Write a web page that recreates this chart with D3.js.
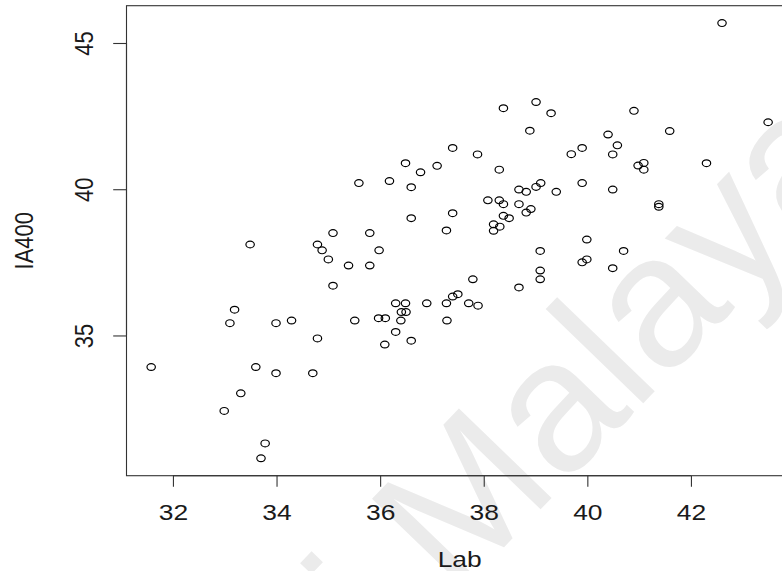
<!DOCTYPE html>
<html>
<head>
<meta charset="utf-8">
<script src="https://cdn.jsdelivr.net/npm/d3@7"></script>
<style>
  html, body { margin: 0; padding: 0; background: #fff; }
  svg { display: block; }
</style>
</head>
<body>
<svg id="chart" width="782" height="571"></svg>
<script>
// Lab vs IA400 measurements, one entry per sample
const lab = [
  31.58, 32.99, 33.10, 33.19, 33.31, 33.49, 33.60, 33.70, 33.78, 33.99,
  33.99, 34.29, 34.70, 34.79, 34.79, 34.88, 35.00, 35.09, 35.09, 35.39,
  35.51, 35.59, 35.80, 35.80, 35.98, 35.97, 36.10, 36.09, 36.18, 36.30,
  36.30, 36.41, 36.50, 36.40, 36.49, 36.49, 36.60, 36.60, 36.60, 36.78,
  36.90, 37.10, 37.28, 37.28, 37.29, 37.40, 37.40, 37.40, 37.50, 37.71,
  37.79, 37.88, 37.89, 38.08, 38.19, 38.19, 38.31, 38.30, 38.30, 38.38,
  38.38, 38.49, 38.38, 38.68, 38.68, 38.68, 38.82, 38.82, 38.91, 38.89,
  39.01, 39.01, 39.10, 39.09, 39.09, 39.09, 39.30, 39.40, 39.69, 39.90,
  39.90, 39.90, 39.99, 39.99, 40.40, 40.49, 40.49, 40.49, 40.58, 40.70,
  40.90, 40.98, 41.09, 41.09, 41.38, 41.38, 41.59, 42.30, 42.60, 43.49
];
const ia400 = [
  33.92, 32.42, 35.42, 35.88, 33.02, 38.11, 33.92, 30.80, 31.31, 35.42,
  33.71, 35.51, 33.71, 38.11, 34.90, 37.91, 37.60, 38.50, 36.70, 37.39,
  35.51, 40.21, 38.50, 37.39, 37.91, 35.59, 35.59, 34.69, 40.28, 36.10,
  35.12, 35.80, 35.80, 35.51, 36.10, 40.89, 40.07, 39.01, 34.82, 40.58,
  36.10, 40.80, 38.59, 36.10, 35.51, 41.41, 39.18, 36.33, 36.41, 36.10,
  36.92, 41.19, 36.02, 39.62, 38.80, 38.58, 38.72, 40.67, 39.62, 39.49,
  39.09, 39.01, 42.77, 39.99, 39.49, 36.64, 39.91, 39.20, 39.32, 42.00,
  42.98, 40.08, 40.21, 37.89, 37.22, 36.92, 42.60, 39.91, 41.20, 41.41,
  40.21, 37.50, 37.60, 38.28, 41.87, 41.19, 39.99, 37.30, 41.50, 37.89,
  42.68, 40.81, 40.90, 40.67, 39.49, 39.40, 41.99, 40.89, 45.68, 42.29
];
const xTicks = [32, 34, 36, 38, 40, 42];
const yTicks = [35, 40, 45];
const xTitle = "Lab";
const yTitle = "IA400";
const watermarkLead = "Universiti\u00A0";
const watermarkMain = "Malaya";

const svg = d3.select("#chart");
const FONT = "'Liberation Sans', Arial, Helvetica, sans-serif";
const INK = "#1a1a1a";
const LINE = "#333";
const SX = 1.2; // horizontal stretch of the glyphs

// plot frame in pixels
const frame = { left: 126.5, right: 792.8, top: 5.7, bottom: 475.7 };

// data range widened by 4% on each side
function padded(vals) {
  const [lo, hi] = d3.extent(vals);
  const p = (hi - lo) * 0.04;
  return [lo - p, hi + p];
}

const x = d3.scaleLinear().domain(padded(lab)).range([frame.left, frame.right]);
const y = d3.scaleLinear().domain(padded(ia400)).range([frame.bottom, frame.top]);

svg.append("rect").attr("width", 782).attr("height", 571).attr("fill", "#fff");

// faint diagonal watermark behind the plot
const wm = svg.append("g")
  .attr("transform", "translate(454,599) rotate(-46)")
  .attr("fill", "#ebebeb")
  .style("font-family", FONT)
  .style("font-size", "187px");
wm.append("text").attr("text-anchor", "end").text(watermarkLead);
wm.append("text").attr("text-anchor", "start").text(watermarkMain);

// x axis
const gx = svg.append("g")
  .attr("transform", `translate(0,${frame.bottom})`)
  .call(d3.axisBottom(x).tickValues(xTicks).tickSize(11).tickSizeOuter(0).tickFormat(d3.format("d")));
gx.attr("font-family", null).attr("font-size", null);
gx.select(".domain").attr("d", `M${x(xTicks[0])},0H${x(xTicks[xTicks.length - 1])}`)
  .attr("stroke", LINE).attr("stroke-width", 1.1);
gx.selectAll(".tick line").attr("stroke", LINE).attr("stroke-width", 1.1);
gx.selectAll(".tick text")
  .attr("y", null).attr("dy", null)
  .attr("fill", INK)
  .attr("transform", `translate(0,44.3) scale(${SX},1)`)
  .style("font-family", FONT).style("font-size", "22px");

// y axis
const gy = svg.append("g")
  .attr("transform", `translate(${frame.left},0)`)
  .call(d3.axisLeft(y).tickValues(yTicks).tickSize(13.3).tickSizeOuter(0).tickFormat(d3.format("d")));
gy.attr("font-family", null).attr("font-size", null);
gy.select(".domain").attr("d", `M0,${y(yTicks[0])}V${y(yTicks[yTicks.length - 1])}`)
  .attr("stroke", LINE).attr("stroke-width", 1.1);
gy.selectAll(".tick line").attr("stroke", LINE).attr("stroke-width", 1.1);
gy.selectAll(".tick text")
  .attr("x", null).attr("dy", null)
  .attr("text-anchor", "middle")
  .attr("fill", INK)
  .attr("transform", `translate(-34,0) scale(${SX},1) rotate(-90)`)
  .style("font-family", FONT).style("font-size", "22px");

// plot box
svg.append("rect")
  .attr("x", frame.left).attr("y", frame.top)
  .attr("width", frame.right - frame.left).attr("height", frame.bottom - frame.top)
  .attr("fill", "none").attr("stroke", LINE).attr("stroke-width", 1.1);

// axis titles
svg.append("text")
  .attr("transform", `translate(${(frame.left + frame.right) / 2},566.5) scale(${SX},1)`)
  .attr("text-anchor", "middle").attr("fill", INK)
  .style("font-family", FONT).style("font-size", "22px")
  .text(xTitle);
svg.append("text")
  .attr("transform", `translate(33.3,${(frame.top + frame.bottom) / 2}) scale(${SX},1) rotate(-90)`)
  .attr("text-anchor", "middle").attr("fill", INK)
  .style("font-family", FONT).style("font-size", "22px")
  .text(yTitle);

// open-circle points
svg.append("g")
  .selectAll("ellipse")
  .data(d3.zip(lab, ia400))
  .join("ellipse")
  .attr("cx", d => x(d[0]))
  .attr("cy", d => y(d[1]))
  .attr("rx", 4.2)
  .attr("ry", 3.4)
  .attr("fill", "none")
  .attr("stroke", "#000")
  .attr("stroke-width", 1.2);
</script>
</body>
</html>
